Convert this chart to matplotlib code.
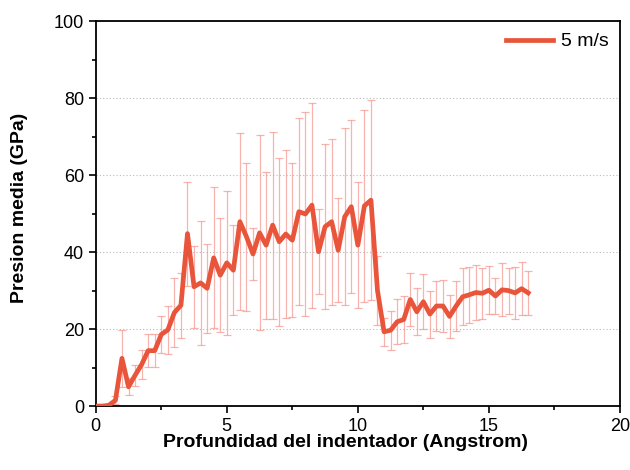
import numpy as np
import matplotlib
matplotlib.use('Agg')
import matplotlib.pyplot as plt
from matplotlib.ticker import MultipleLocator

plt.rcParams['font.family'] = ['Liberation Sans', 'DejaVu Sans']

# profundidad (Angstrom), paso 0.25
depth = np.arange(67) * 0.25

# presion media (GPa)
pressure = [0, 0, 0.2, 1.5, 12.4, 5.0, 8.0, 10.8, 14.4, 14.4,
            18.6, 19.8, 24.3, 26.2, 44.8, 31.0, 32.0, 30.6, 38.5, 34.0,
            37.2, 35.3, 47.9, 44.0, 39.5, 45.0, 41.8, 47.0, 42.7, 44.7,
            43.1, 50.5, 49.9, 52.2, 40.1, 46.6, 47.9, 40.5, 49.2, 51.8,
            41.8, 52.0, 53.5, 30.0, 19.3, 19.7, 21.9, 22.5, 27.7, 24.5,
            27.1, 23.9, 26.0, 26.0, 23.3, 26.0, 28.4, 28.9, 29.5, 29.3,
            30.1, 28.6, 30.2, 30.0, 29.4, 30.5, 29.4]

# desviacion
err = [0, 0, 0.3, 1.0, 7.4, 2.2, 2.8, 3.7, 4.3, 4.3,
       4.9, 6.2, 9.0, 8.5, 13.5, 10.6, 16.2, 11.5, 18.3, 14.8,
       18.8, 11.7, 23.0, 19.2, 6.8, 25.3, 19.1, 24.3, 21.8, 21.7,
       20.0, 24.3, 26.4, 26.6, 11.0, 21.4, 21.6, 13.5, 23.0, 22.4,
       16.4, 24.9, 26.0, 9.0, 3.6, 5.1, 5.8, 6.2, 7.0, 6.1,
       7.2, 6.1, 6.5, 6.7, 5.6, 6.6, 7.4, 7.3, 7.2, 6.6,
       6.2, 4.8, 6.9, 6.0, 6.8, 6.9, 5.7]

fig = plt.figure(figsize=(6.3, 4.7), dpi=100)
ax = fig.add_axes([0.152, 0.136, 0.832, 0.819])

ax.errorbar(depth, pressure, yerr=err, fmt='none', ecolor='#f4938a',
            elinewidth=0.9, capsize=3, capthick=0.9, alpha=0.7, zorder=2)
ax.plot(depth, pressure, color='#e8553a', lw=3.4, label='5 m/s', zorder=3)

ax.set_xlim(0, 20)
ax.set_ylim(0, 100)
ax.xaxis.set_major_locator(MultipleLocator(5))
ax.xaxis.set_minor_locator(MultipleLocator(2.5))
ax.yaxis.set_major_locator(MultipleLocator(20))
ax.yaxis.set_minor_locator(MultipleLocator(10))
ax.tick_params(which='major', direction='out', length=5, width=1.2, labelsize=13)
ax.tick_params(which='minor', direction='out', length=3, width=1.2)
for s in ax.spines.values():
    s.set_linewidth(1.3)

ax.grid(axis='y', which='major', ls=(0, (1, 2)), color='#bbbbbb', lw=0.8)
ax.set_axisbelow(True)

ax.set_xlabel('Profundidad del indentador (Angstrom)', fontsize=14,
              fontweight='bold')
ax.set_ylabel('Presion media (GPa)', fontsize=14, fontweight='bold')
ax.xaxis.set_label_coords(0.477, -0.073)
ax.yaxis.set_label_coords(-0.13, 0.515)
ax.legend(loc='upper right', frameon=False, fontsize=14, handlelength=2.4,
          handletextpad=0.4, borderaxespad=0.2)

fig.savefig('out.png', dpi=100)
